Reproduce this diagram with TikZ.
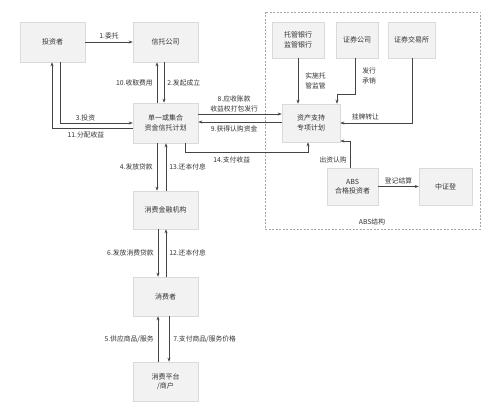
\documentclass[tikz,border=0pt]{standalone}
\usepackage{fontspec}
\setmainfont{Noto Sans CJK SC}
\usetikzlibrary{arrows.meta,positioning}
\definecolor{boxfill}{HTML}{F2F2F2}
\definecolor{boxline}{HTML}{DADADA}
\definecolor{txt}{HTML}{333333}
\definecolor{arr}{HTML}{444444}
\tikzset{
  box/.style={draw=boxline, fill=boxfill, line width=0.6pt, inner sep=0pt, align=center, font=\fontsize{7}{9.5}\selectfont, text=txt},
  lbl/.style={font=\fontsize{6.8}{9.5}\selectfont, text=txt, inner sep=1pt, align=center},
  ar/.style={draw=arr, line width=0.6pt, -{Stealth[length=4pt,width=3pt]}},
}
\begin{document}
\begin{tikzpicture}[x=1pt,y=-1pt]
\useasboundingbox[fill=white] (0,0) rectangle (500,414);
% dashed ABS frame
\draw[draw=gray!70, dash pattern=on 2pt off 1.5pt, line width=0.6pt] (265,12) rectangle (480,229);
\node[lbl] (abslbl) at (372,222) {ABS结构};
% boxes
\node[box, minimum width=65pt, minimum height=40pt] (inv) at (52.5,42) {投资者};
\node[box, minimum width=65pt, minimum height=40pt] (trustco) at (165.5,42) {信托公司};
\node[box, minimum width=65pt, minimum height=40pt] (plan) at (165.5,123) {单一或集合\\资金信托计划};
\node[box, minimum width=65pt, minimum height=38pt] (cfi) at (165.5,210) {消费金融机构};
\node[box, minimum width=65pt, minimum height=39pt] (cons) at (165.5,296.5) {消费者};
\node[box, minimum width=65pt, minimum height=39pt] (merch) at (165.5,381.5) {消费平台\\/商户};
\node[box, minimum width=52pt, minimum height=36pt] (bank) at (298,40) {托管银行\\监管银行};
\node[box, minimum width=42pt, minimum height=36pt] (sec) at (357,40) {证券公司};
\node[box, minimum width=47pt, minimum height=36pt] (exch) at (411.5,40) {证券交易所};
\node[box, minimum width=58pt, minimum height=38pt] (abs) at (311,123) {资产支持\\专项计划};
\node[box, minimum width=51pt, minimum height=37pt] (absinv) at (352.5,186.5) {ABS\\合格投资者};
\node[box, minimum width=53pt, minimum height=37pt] (csdc) at (445.5,186.5) {中证登};
% coordinates
\coordinate (c3a) at (60,123);
\coordinate (c11a) at (52,128);
\coordinate (c14a) at (185,152);
\coordinate (c14b) at (308,152);
\coordinate (csa) at (355,94);
\coordinate (csb) at (337,94);
\coordinate (cea) at (412,123);
\coordinate (cia) at (350,141);
% arrows top-left
\draw[ar] (inv.east |- 0,42) -- node[lbl, above=2pt] {1.委托} (trustco.west |- 0,42);
\draw[ar] (trustco.south -| 164,0) -- node[lbl, right=2pt] {2.发起成立} (plan.north -| 164,0);
\draw[ar] (plan.north -| 157,0) -- node[lbl, left=3pt] {10.收取费用} (trustco.south -| 157,0);
\draw[ar] (inv.south -| c3a) -- (c3a) -- node[lbl, above=1pt, pos=0.35] {3.投资} (plan.west |- c3a);
\draw[ar] (plan.west |- c11a) -- node[lbl, below=2pt, pos=0.58] {11.分配收益} (c11a) -- (inv.south -| c11a);
% middle column
\draw[ar] (plan.south -| 157,0) -- node[lbl, left=3pt] {4.发放贷款} (cfi.north -| 157,0);
\draw[ar] (cfi.north -| 166,0) -- node[lbl, right=2pt] {13.还本付息} (plan.south -| 166,0);
\draw[ar] (cfi.south -| 158,0) -- node[lbl, left=3pt] {6.发放消费贷款} (cons.north -| 158,0);
\draw[ar] (cons.north -| 166,0) -- node[lbl, right=2pt] {12.还本付息} (cfi.south -| 166,0);
\draw[ar] (merch.north -| 158,0) -- node[lbl, left=3pt] {5.供应商品/服务} (cons.south -| 158,0);
\draw[ar] (cons.south -| 169,0) -- node[lbl, right=3pt] {7.支付商品/服务价格} (merch.north -| 169,0);
% plan <-> abs
\draw[ar] (plan.east |- 0,114) -- node[lbl, above=1pt, pos=0.43] {8.应收账款\\收益权打包发行} (abs.west |- 0,114);
\draw[ar] (abs.west |- 0,122) -- node[lbl, below=2pt, pos=0.57] {9.获得认购资金} (plan.east |- 0,122);
\draw[ar] (plan.south -| c14a) -- (c14a) -- node[lbl, below=3pt, pos=0.38] {14.支付收益} (c14b) -- (abs.south -| c14b);
% ABS structure
\draw[ar] (bank.south) -- node[lbl, right=6pt] {实施托\\管监管} (abs.north -| bank.south);
\draw[ar] (sec.south -| csa) -- node[lbl, right=6pt] {发行\\承销} (csa) -- (csb) -- (abs.north -| csb);
\draw[ar] (exch.south -| cea) -- (cea) -- node[lbl, above=2pt, pos=0.65] {挂牌转让} (abs.east |- cea);
\draw[ar] (absinv.north -| cia) -- node[lbl, left=2pt, pos=0.3] {出资认购} (cia) -- (abs.east |- cia);
\draw[ar] (absinv.east) -- node[lbl, above=1pt] {登记结算} (csdc.west);
\end{tikzpicture}
\end{document}
